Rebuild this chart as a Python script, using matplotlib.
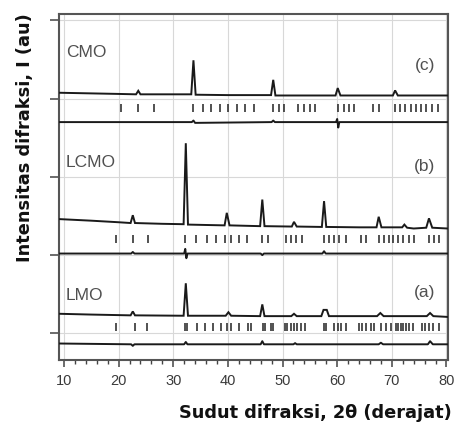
import matplotlib
matplotlib.use("Agg")

import matplotlib.pyplot as plt
from matplotlib.ticker import MultipleLocator


# 2theta (deg) / intensity (au) vertices, one offset per pattern
LMO_OBS_X = [9.2, 15, 22.2, 22.6, 23.0, 31.9, 32.3, 32.7, 39.6, 40.1, 40.6,
             45.9, 46.3, 46.7, 51.6, 52.1, 52.6, 57.1, 57.5, 58.1, 58.5,
             67.3, 67.9, 68.5, 76.4, 77.0, 77.6, 80.2]
LMO_OBS_Y = [25, 24, 23, 28, 23, 22.5, 64, 22.5, 22.5, 27, 22.5,
             22, 37, 22, 22, 25, 22, 22, 30, 30, 22,
             22, 26, 22, 22, 26, 22, 21]
LMO_DIFF_X = [9.2, 22.3, 22.6, 22.9, 32.0, 32.3, 32.6, 46.0, 46.3, 46.6,
              52.0, 52.3, 52.6, 67.6, 68.0, 68.4, 76.6, 77.0, 77.5, 80.2]
LMO_DIFF_Y = [-13, -14, -16, -14, -14, -11, -14, -14, -10, -14,
              -14, -12.5, -14, -14, -12, -14, -14, -10, -14, -14]
LMO_BRAGG = [19.6, 22.95, 25.2, 32.2, 32.5, 34.4, 35.9, 37.3, 38.7, 39.9,
             40.5, 42.1, 43.6, 44.3, 46.4, 46.8, 47.9, 48.2, 50.5, 50.9,
             51.5, 52.1, 52.7, 53.3, 54.1, 57.6, 58.0, 59.5, 60.1, 60.7,
             61.6, 64.0, 64.6, 65.2, 66.2, 66.8, 68.0, 68.9, 69.8, 70.8,
             71.2, 71.7, 72.1, 72.6, 73.2, 73.8, 75.6, 76.1, 76.8, 77.6, 78.7]

LCMO_OBS_X = [9.2, 15, 20, 22.2, 22.6, 23.0, 28, 31.9, 32.3, 32.7, 36,
              39.4, 39.8, 40.3, 45.9, 46.3, 46.7, 51.7, 52.1, 52.6,
              57.2, 57.6, 58.0, 64, 67.2, 67.6, 68.1, 71.9, 72.3, 72.8,
              74, 76.3, 76.8, 77.4, 80.2]
LCMO_OBS_Y = [146, 144, 142, 141, 151, 141, 140, 139.5, 243, 139, 138.5,
              138, 154, 138, 137, 171, 137, 136.5, 142.5, 136.5,
              136, 169, 136, 135.5, 135.5, 149, 135.5, 135.5, 139, 135,
              134, 135, 147, 135, 134]
LCMO_DIFF_X = [9.2, 22.3, 22.6, 22.9, 32.0, 32.2, 32.4, 32.6, 46.0, 46.3,
               46.6, 57.3, 57.6, 57.9, 80.2]
LCMO_DIFF_Y = [102, 102, 104, 102, 102, 108, 96, 102, 102, 100,
               102, 102, 105, 102, 102]
LCMO_BRAGG = [19.6, 22.6, 25.4, 32.2, 34.2, 36.1, 37.8, 39.4, 40.5, 42.1,
              43.5, 46.3, 47.4, 50.6, 51.5, 52.4, 53.5, 57.6, 58.5, 59.5,
              60.4, 61.6, 64.3, 65.2, 67.6, 68.6, 69.4, 70.3, 71.1, 72.0,
              73.1, 74.1, 76.8, 77.7, 78.6]

CMO_OBS_X = [9.2, 20, 23.2, 23.6, 24.0, 33.3, 33.7, 34.1, 40, 47.9, 48.3,
             48.7, 55, 59.7, 60.1, 60.6, 70.2, 70.6, 71.1, 80.2]
CMO_OBS_Y = [307.5, 306, 305.5, 310, 305.5, 305.5, 349, 305, 304.5, 304.5,
             324, 304, 304, 304, 313.5, 304, 304, 310.5, 304, 304]
CMO_DIFF_X = [9.2, 33.4, 33.7, 34.0, 48.0, 48.3, 48.6, 59.8, 60.0, 60.2,
              60.4, 80.2]
CMO_DIFF_Y = [270, 270, 272, 269, 270, 272, 270, 270, 274, 263, 270, 270]
CMO_BRAGG = [20.5, 23.6, 26.5, 33.7, 35.5, 37.0, 38.5, 40.0, 41.6, 43.1,
             44.7, 48.3, 49.3, 50.2, 52.9, 54.0, 55.0, 56.0, 60.1, 61.3,
             62.2, 63.1, 66.6, 67.7, 70.6, 71.5, 72.5, 73.5, 74.4, 75.4,
             76.2, 77.3, 78.4]

SAMPLE_NAMES = ["LMO", "LCMO", "CMO"]
PANEL_TAGS = ["(a)", "(b)", "(c)"]
BRAGG_LEVELS = [8.4, 120, 288]
NAME_Y = [42.5, 212.5, 352.8]
TAG_Y = [47, 207, 337]


fig = plt.figure(figsize=(4.54, 4.28), dpi=100)
ax = fig.add_axes([0.130, 0.159, 0.857, 0.808])

patterns = [
    (LMO_OBS_X, LMO_OBS_Y, LMO_DIFF_X, LMO_DIFF_Y, LMO_BRAGG),
    (LCMO_OBS_X, LCMO_OBS_Y, LCMO_DIFF_X, LCMO_DIFF_Y, LCMO_BRAGG),
    (CMO_OBS_X, CMO_OBS_Y, CMO_DIFF_X, CMO_DIFF_Y, CMO_BRAGG),
]
for (ox, oy, dx, dy, bragg), level in zip(patterns, BRAGG_LEVELS):
    ax.plot(ox, oy, color="#1a1a1a", lw=1.4, solid_joinstyle="miter", zorder=3)
    ax.plot(dx, dy, color="#1a1a1a", lw=1.4, zorder=3)
    ax.plot(bragg, [level] * len(bragg), ls="none", marker="|",
            ms=5.5, mew=1.1, color="#222222", zorder=3)

label_font = ["Liberation Sans", "DejaVu Sans"]
for name, tag, ny, ty in zip(SAMPLE_NAMES, PANEL_TAGS, NAME_Y, TAG_Y):
    ax.text(10.4, ny, name, fontsize=12.5, color="#505050", family=label_font,
            ha="left", va="baseline")
    ax.text(77.9, ty, tag, fontsize=12.5, color="#505050", family=label_font,
            ha="right", va="baseline")

ax.set_xlim(9.1, 80.3)
ax.set_ylim(-34, 408)
ax.xaxis.set_major_locator(MultipleLocator(10))
ax.xaxis.set_minor_locator(MultipleLocator(2))
ax.set_yticks([0, 100, 200, 300, 400])
ax.set_yticklabels([])
ax.grid(True, which="major", color="#d8d8d8", lw=0.8)
ax.set_axisbelow(True)

ax.tick_params(axis="x", which="major", direction="out", length=5, width=1.1,
               color="#444444", labelcolor="#3a3a3a", labelsize=10.5, pad=5)
ax.tick_params(axis="x", which="minor", direction="out", length=3, width=1.0,
               color="#444444")
ax.tick_params(axis="y", which="major", direction="out", length=6.5, width=1.1,
               color="#444444")
for lab in ax.get_xticklabels():
    lab.set_family(["Liberation Sans Narrow", "Liberation Sans"])

for spine in ax.spines.values():
    spine.set_color("#555555")
    spine.set_linewidth(1.5)

fig.text(25.5 / 454, 1 - 137.5 / 428, "Intensitas difraksi, I (au)",
         rotation=90, ha="center", va="center", fontsize=12.8,
         fontweight="bold", color="#111111")
fig.text(452 / 454, 1 - 418 / 428, "Sudut difraksi, 2\u03b8 (derajat)",
         ha="right", va="baseline", fontsize=12.8, fontweight="bold",
         color="#111111")

fig.savefig("out.png", dpi=100)
plt.close(fig)
